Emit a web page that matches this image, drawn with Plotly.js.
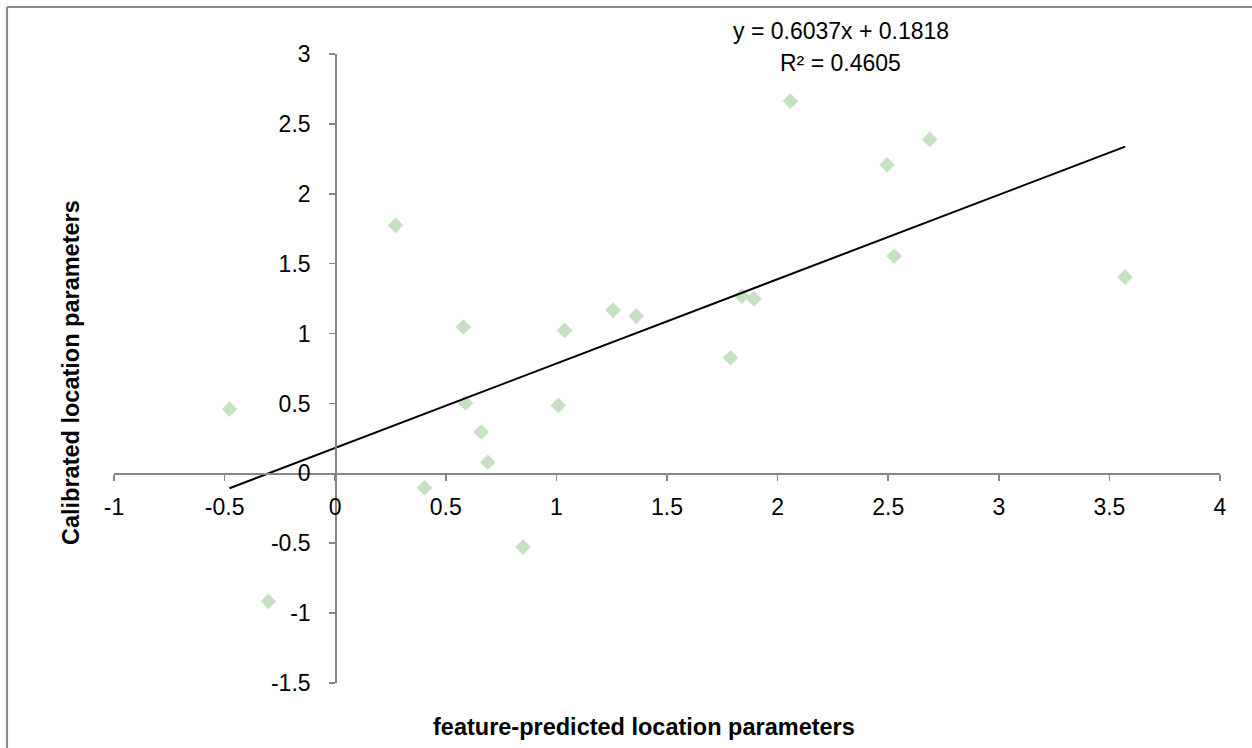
<!DOCTYPE html>
<html>
<head>
<meta charset="utf-8">
<script src="https://cdn.plot.ly/plotly-3.0.1.min.js"></script>
<style>
  html, body { margin: 0; padding: 0; background: #ffffff; }
  #chart { width: 1252px; height: 748px; }
</style>
</head>
<body>
<div id="chart"></div>
<script>
// Data
const featurePredicted = [-0.478, -0.302, 0.273, 0.404, 0.580, 0.589, 0.660, 0.690, 0.849,
                          1.009, 1.037, 1.256, 1.361, 1.787, 1.839, 1.893, 2.058, 2.495,
                          2.527, 2.688, 3.571];
const calibrated       = [0.458, -0.916, 1.774, -0.103, 1.047, 0.503, 0.296, 0.079, -0.527,
                          0.486, 1.023, 1.166, 1.125, 0.827, 1.268, 1.249, 2.663, 2.208,
                          1.554, 2.389, 1.404];
const trendSlope = 0.6037;
const trendIntercept = 0.1818;
const rSquared = 0.4605;
const xTickVals = [-1, -0.5, 0, 0.5, 1, 1.5, 2, 2.5, 3, 3.5, 4];
const yTickVals = [-1.5, -1, -0.5, 0, 0.5, 1, 1.5, 2, 2.5, 3];

const xMin = Math.min(...featurePredicted);
const xMax = Math.max(...featurePredicted);
const trendX = [xMin, xMax];
const trendY = trendX.map(v => trendSlope * v + trendIntercept);

const FONT = "'Liberation Sans', Arial, sans-serif";
const AXIS_COLOR = '#868686';

const traces = [
  {
    type: 'scatter', mode: 'markers',
    x: featurePredicted, y: calibrated,
    marker: { symbol: 'diamond', size: 12, color: '#c6e0c2', line: { width: 0 } },
    hoverinfo: 'x+y', showlegend: false
  },
  {
    type: 'scatter', mode: 'lines',
    x: trendX, y: trendY,
    line: { color: '#000000', width: 2 },
    hoverinfo: 'skip', showlegend: false
  }
];

const xRange = [-1, 4];
const yRange = [-1.5, 3];
const xZeroFrac = (0 - xRange[0]) / (xRange[1] - xRange[0]);
const yZeroFrac = (0 - yRange[0]) / (yRange[1] - yRange[0]);

const layout = {
  width: 1252, height: 748,
  paper_bgcolor: '#ffffff', plot_bgcolor: '#ffffff',
  margin: { l: 114, r: 32, t: 54, b: 65, pad: 0 },
  font: { family: FONT, size: 23, color: '#000000' },
  showlegend: false,
  xaxis: {
    range: xRange, tickmode: 'array', tickvals: xTickVals,
    ticktext: xTickVals.map(String),
    anchor: 'free', position: yZeroFrac,
    showline: true, linecolor: AXIS_COLOR, linewidth: 1.5,
    ticks: 'outside', ticklen: 6, tickwidth: 1.5, tickcolor: AXIS_COLOR,
    showgrid: false, zeroline: false,
    ticklabelstandoff: 7,
    tickfont: { family: FONT, size: 23, color: '#000000' }
  },
  yaxis: {
    range: yRange, tickmode: 'array', tickvals: yTickVals,
    ticktext: yTickVals.map(String),
    anchor: 'free', position: xZeroFrac,
    showline: true, linecolor: AXIS_COLOR, linewidth: 1.5,
    ticks: 'outside', ticklen: 6, tickwidth: 1.5, tickcolor: AXIS_COLOR,
    showgrid: false, zeroline: false,
    ticklabelstandoff: 14,
    tickfont: { family: FONT, size: 23, color: '#000000' }
  },
  annotations: [
    { xref: 'paper', yref: 'paper', x: 0.6573, y: 1.0366, xanchor: 'center', yanchor: 'middle',
      text: 'y = ' + trendSlope.toFixed(4) + 'x + ' + trendIntercept.toFixed(4),
      showarrow: false, font: { family: FONT, size: 23, color: '#000000' } },
    { xref: 'paper', yref: 'paper', x: 0.6573, y: 0.9857, xanchor: 'center', yanchor: 'middle',
      text: 'R² = ' + rSquared.toFixed(4),
      showarrow: false, font: { family: FONT, size: 23, color: '#000000' } },
    { xref: 'paper', yref: 'paper', x: 0.4792, y: -0.070, xanchor: 'center', yanchor: 'middle',
      text: '<b>feature-predicted location parameters</b>',
      showarrow: false, font: { family: FONT, size: 23.5, color: '#000000' } },
    { xref: 'paper', yref: 'paper', x: -0.0389, y: 0.4944, xanchor: 'center', yanchor: 'middle',
      text: '<b>Calibrated location parameters</b>', textangle: -90,
      showarrow: false, font: { family: FONT, size: 23.5, color: '#000000' } }
  ],
  shapes: [
    { type: 'line', xref: 'paper', yref: 'paper', x0: -0.0967, x1: -0.0967, y0: -0.2, y1: 1.0747,
      line: { color: '#8a8a8a', width: 2 } },
    { type: 'line', xref: 'paper', yref: 'paper', x0: -0.0967, x1: 1.1, y0: 1.0747, y1: 1.0747,
      line: { color: '#8a8a8a', width: 2 } }
  ]
};

Plotly.newPlot('chart', traces, layout, { displayModeBar: false, responsive: false, staticPlot: true });
</script>
</body>
</html>
